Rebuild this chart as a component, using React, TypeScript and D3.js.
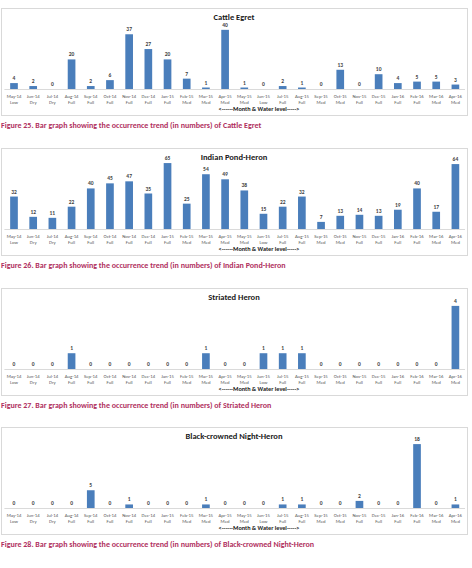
import React, { useEffect, useRef } from "react";
import * as d3 from "d3";

const WIDTH = 472;
const HEIGHT = 568;

const months = [
  "May-14", "Jun-14", "Jul-14", "Aug-14", "Sep-14", "Oct-14", "Nov-14", "Dec-14",
  "Jan-15", "Feb-15", "Mar-15", "Apr-15", "May-15", "Jun-15", "Jul-15", "Aug-15",
  "Sep-15", "Oct-15", "Nov-15", "Dec-15", "Jan-16", "Feb-16", "Mar-16", "Apr-16",
];
const waterLevels = [
  "Low", "Dry", "Dry", "Full", "Full", "Full", "Full", "Full",
  "Full", "Med", "Med", "Med", "Med", "Low", "Full", "Full",
  "Med", "Med", "Full", "Full", "Full", "Full", "Med", "Med",
];

const cattleEgret = [4, 2, 0, 20, 2, 6, 37, 27, 20, 7, 1, 40, 1, 0, 2, 1, 0, 13, 0, 10, 4, 5, 5, 3];
const indianPondHeron = [32, 12, 11, 22, 40, 45, 47, 35, 65, 25, 54, 49, 38, 15, 22, 32, 7, 13, 14, 13, 19, 40, 17, 64];
const striatedHeron = [0, 0, 0, 1, 0, 0, 0, 0, 0, 0, 1, 0, 0, 1, 1, 1, 0, 0, 0, 0, 0, 0, 0, 4];
const nightHeron = [0, 0, 0, 0, 5, 0, 1, 0, 0, 0, 1, 0, 0, 0, 1, 1, 0, 0, 2, 0, 0, 18, 0, 1];

const titles = ["Cattle Egret", "Indian Pond-Heron", "Striated Heron", "Black-crowned Night-Heron"];
const figureNumbers = [25, 26, 27, 28];
const seriesList = [cattleEgret, indianPondHeron, striatedHeron, nightHeron];
// hidden value-axis maxima of each panel
const axisMax = [48, 70, 4.5, 20];

const PANEL_TOPS = [8, 148, 288, 427];
const BOX = { LEFT: 1, WIDTH: 466, HEIGHT: 107 };
const BASE = 81; // baseline offset from top of box
const PLOT_H = 71;
const FONT = "Carlito, Lato, 'Open Sans', sans-serif";
const BAR = "#4a7ebb";
const CAPTION = "#b0305e";

export default function App() {
  const ref = useRef<SVGSVGElement>(null);

  useEffect(() => {
    const svg = d3.select(ref.current);
    svg.selectAll("*").remove();

    const x = d3
      .scaleBand()
      .domain(months)
      .range([4.4, 465])
      .paddingInner(0.6)
      .paddingOuter(0.3);

    seriesList.forEach((values, k) => {
      const top = PANEL_TOPS[k];
      const g = svg.append("g").attr("transform", `translate(0, ${top})`);
      const y = d3.scaleLinear().domain([0, axisMax[k]]).range([BASE, BASE - PLOT_H]);

      g.append("rect")
        .attr("x", BOX.LEFT + 0.5)
        .attr("y", 0.5)
        .attr("width", BOX.WIDTH)
        .attr("height", BOX.HEIGHT)
        .attr("fill", "#fff")
        .attr("stroke", "#d9d9d9");

      g.append("text")
        .attr("x", BOX.LEFT + BOX.WIDTH / 2)
        .attr("y", 12)
        .attr("text-anchor", "middle")
        .attr("font-family", FONT)
        .attr("font-size", 8.5)
        .attr("font-weight", "bold")
        .attr("fill", "#1a1a1a")
        .text(titles[k]);

      const data = months.map((m, i) => ({ m, v: values[i], w: waterLevels[i] }));

      g.selectAll("rect.bar")
        .data(data)
        .enter()
        .append("rect")
        .attr("class", "bar")
        .attr("x", (d) => x(d.m)!)
        .attr("y", (d) => y(d.v))
        .attr("width", x.bandwidth())
        .attr("height", (d) => y(0) - y(d.v))
        .attr("fill", BAR);

      // category axis line
      g.append("line")
        .attr("x1", 4.4)
        .attr("x2", 465)
        .attr("y1", BASE + 0.5)
        .attr("y2", BASE + 0.5)
        .attr("stroke", "#d0d0d0")
        .attr("stroke-width", 0.8);

      g.selectAll("text.val")
        .data(data)
        .enter()
        .append("text")
        .attr("class", "val")
        .attr("x", (d) => x(d.m)! + x.bandwidth() / 2)
        .attr("y", (d) => y(d.v) - 3)
        .attr("text-anchor", "middle")
        .attr("font-family", FONT)
        .attr("font-size", 5.5)
        .attr("font-weight", "bold")
        .attr("fill", "#404040")
        .text((d) => d.v);

      const labels = g
        .selectAll("text.cat")
        .data(data)
        .enter()
        .append("text")
        .attr("class", "cat")
        .attr("text-anchor", "middle")
        .attr("font-family", FONT)
        .attr("font-size", 4.8)
        .attr("fill", "#595959");
      labels
        .append("tspan")
        .attr("x", (d) => x(d.m)! + x.bandwidth() / 2)
        .attr("y", BASE + 8.5)
        .text((d) => d.m);
      labels
        .append("tspan")
        .attr("x", (d) => x(d.m)! + x.bandwidth() / 2)
        .attr("y", BASE + 14.5)
        .text((d) => d.w);

      g.append("text")
        .attr("x", 259)
        .attr("y", 103)
        .attr("text-anchor", "middle")
        .attr("font-family", FONT)
        .attr("font-size", 6.2)
        .attr("font-weight", "bold")
        .attr("fill", "#1a1a1a")
        .text("<------Month & Water level----->");

      g.append("text")
        .attr("x", 1)
        .attr("y", BOX.HEIGHT + 13)
        .attr("font-family", FONT)
        .attr("font-size", 8)
        .attr("font-weight", "bold")
        .attr("fill", CAPTION)
        .text(
          `Figure ${figureNumbers[k]}. Bar graph showing the occurrence trend (in numbers) of ${titles[k]}`
        );
    });
  });

  return (
    <div style={{ position: "fixed", left: 0, top: 0, background: "#fff" }}>
      <svg ref={ref} width={WIDTH} height={HEIGHT} />
    </div>
  );
}
